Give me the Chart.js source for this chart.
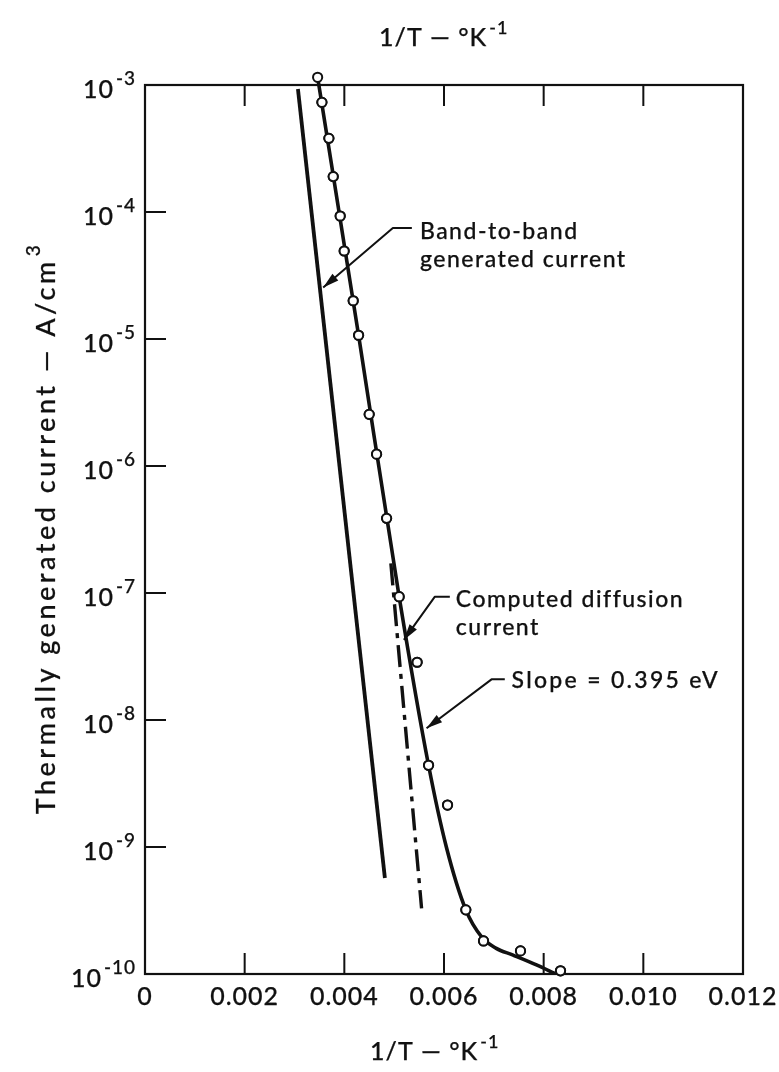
<!DOCTYPE html>
<html>
<head>
<meta charset="utf-8">
<script src="https://cdn.jsdelivr.net/npm/chart.js@4/dist/chart.umd.min.js"></script>
<style>
  html, body { margin: 0; padding: 0; background: #fff; }
  #wrap { width: 779px; height: 1072px; position: relative; }
</style>
</head>
<body>
<div id="wrap"><canvas id="c"></canvas></div>
<script>
// Axis ticks
const xTickValues = [0, 0.002, 0.004, 0.006, 0.008, 0.010, 0.012];
const xTickLabels = ['0', '0.002', '0.004', '0.006', '0.008', '0.010', '0.012'];
const yDecades = [-3, -4, -5, -6, -7, -8, -9, -10];

// Measured thermally generated current
const measuredInvT = [0.003464, 0.003550, 0.003690, 0.003777, 0.003917, 0.003997, 0.004178, 0.004286,
  0.004499, 0.004647, 0.004848, 0.005100, 0.005461, 0.005690, 0.006071, 0.006438, 0.006793, 0.007535, 0.008338];
const measuredCurrent = [1.15e-3, 7.3e-4, 3.8e-4, 1.90e-4, 9.3e-5, 4.93e-5, 2.0e-5, 1.07e-5,
  2.55e-6, 1.24e-6, 3.87e-7, 9.35e-8, 2.85e-8, 4.4e-9, 2.14e-9, 3.2e-10, 1.82e-10, 1.52e-10, 1.06e-10];

// Curve drawn through the measurements (slope = 0.395 eV, then levelling off)
const fitInvT = [0.003464, 0.004286, 0.005100, 0.005690, 0.006047, 0.006438, 0.006759, 0.007040, 0.007387, 0.007856, 0.008223];
const fitCurrent = [1.15e-3, 1.07e-5, 9.35e-8, 4.4e-9, 1.0e-9, 3.2e-10, 1.95e-10, 1.60e-10, 1.41e-10, 1.18e-10, 1.01e-10];

// Band-to-band generated current
const bandInvT = [0.003069, 0.004814];
const bandCurrent = [9.3e-4, 5.7e-10];

// Computed diffusion current
const diffInvT = [0.004934, 0.005550];
const diffCurrent = [1.71e-7, 3.29e-10];

// Callouts: arrow tip, elbow, end of leader, text anchor (data units)
const callouts = [
  { tip: [0.003576, 2.54e-5], elbow: [0.004974, 7.48e-5], end: [0.005355, 7.48e-5],
    text: [0.005516, 6.12e-5], lines: ['Band-to-band', 'generated current'] },
  { tip: [0.005195, 4.27e-8], elbow: [0.005817, 9.35e-8], end: [0.006117, 9.35e-8],
    text: [0.006238, 7.8e-8], lines: ['Computed diffusion', 'current'] },
  { tip: [0.00565, 8.6e-9], elbow: [0.006954, 2.09e-8], end: [0.00722, 2.09e-8],
    text: [0.007355, 1.78e-8], lines: ['Slope = 0.395 eV'] }
];

const FONT = 'Lato, "DejaVu Sans", sans-serif';
const WEIGHT = '500 ';
const INK = '#111';
const toXY = (xs, ys) => xs.map((x, i) => ({ x: x, y: ys[i] }));

function setSpacing(ctx, px) {
  if ('letterSpacing' in ctx) ctx.letterSpacing = px + 'px';
}

// Filled text with a faint outline so the glyphs read a little heavier
function inkText(ctx, s, x, y) {
  ctx.fillText(s, x, y);
  ctx.strokeText(s, x, y);
}

// Text with a superscript tail; align 'left', 'center' or 'right' on x
function drawWithSup(ctx, base, sup, x, y, size, supSize, supRise, align, spacing) {
  ctx.save();
  setSpacing(ctx, spacing);
  ctx.font = WEIGHT + size + 'px ' + FONT;
  const wb = ctx.measureText(base).width;
  ctx.font = WEIGHT + supSize + 'px ' + FONT;
  const ws = ctx.measureText(sup).width;
  const gap = 2;
  const x0 = align === 'right' ? x - (wb + gap + ws) : (align === 'center' ? x - (wb + gap + ws) / 2 : x);
  ctx.textAlign = 'left';
  ctx.textBaseline = 'alphabetic';
  ctx.font = WEIGHT + size + 'px ' + FONT;
  inkText(ctx, base, x0, y);
  ctx.font = WEIGHT + supSize + 'px ' + FONT;
  inkText(ctx, sup, x0 + wb + gap, y - supRise);
  ctx.restore();
}

const framePlugin = {
  id: 'frame',
  afterDatasetsDraw(chart) {
    const ctx = chart.ctx;
    const xs = chart.scales.x, ys = chart.scales.y;
    const a = chart.chartArea;
    ctx.save();
    ctx.strokeStyle = INK;
    ctx.fillStyle = INK;
    ctx.lineWidth = 2.2;
    ctx.strokeRect(a.left, a.top, a.right - a.left, a.bottom - a.top);

    // inward ticks
    ctx.lineWidth = 2;
    const tl = 21;
    xTickValues.forEach(v => {
      const px = xs.getPixelForValue(v);
      ctx.beginPath();
      ctx.moveTo(px, a.top); ctx.lineTo(px, a.top + tl);
      ctx.moveTo(px, a.bottom); ctx.lineTo(px, a.bottom - tl);
      ctx.stroke();
    });
    yDecades.forEach(d => {
      const py = ys.getPixelForValue(Math.pow(10, d));
      ctx.beginPath();
      ctx.moveTo(a.left, py); ctx.lineTo(a.left + tl, py);
      ctx.stroke();
    });

    // all text gets the same light outline
    const TEXT_EDGE = 0.25;
    ctx.lineWidth = TEXT_EDGE;
    ctx.lineJoin = 'round';

    // x tick labels
    ctx.font = WEIGHT + '25px ' + FONT;
    setSpacing(ctx, 1);
    ctx.textAlign = 'center';
    ctx.textBaseline = 'alphabetic';
    xTickValues.forEach((v, i) => {
      inkText(ctx, xTickLabels[i], xs.getPixelForValue(v), a.bottom + 31);
    });

    // y tick labels (powers of ten)
    yDecades.forEach(d => {
      const py = ys.getPixelForValue(Math.pow(10, d));
      drawWithSup(ctx, '10', '-' + Math.abs(d), a.left - 9, py + 13, 25, 19, 13, 'right', 1);
    });

    // axis titles
    drawWithSup(ctx, '1/T \u2014 \u00b0K', '-1', 379, 46, 25, 18, 12, 'left', 1);
    drawWithSup(ctx, '1/T \u2014 \u00b0K', '-1', 370, 1060, 25, 18, 12, 'left', 1);

    ctx.save();
    ctx.translate(55, 528);
    ctx.rotate(-Math.PI / 2);
    drawWithSup(ctx, 'Thermally generated current \u2014 A/cm', '3', 0, 0, 27, 19, 15, 'center', 3.5);
    ctx.restore();

    // callouts
    callouts.forEach(c => {
      const tip = [xs.getPixelForValue(c.tip[0]), ys.getPixelForValue(c.tip[1])];
      const elb = [xs.getPixelForValue(c.elbow[0]), ys.getPixelForValue(c.elbow[1])];
      const end = [xs.getPixelForValue(c.end[0]), ys.getPixelForValue(c.end[1])];
      ctx.lineWidth = 2;
      ctx.beginPath();
      ctx.moveTo(end[0], end[1]);
      ctx.lineTo(elb[0], elb[1]);
      ctx.lineTo(tip[0], tip[1]);
      ctx.stroke();
      // arrow head
      const ang = Math.atan2(tip[1] - elb[1], tip[0] - elb[0]);
      const L = 16, W = 4.5;
      const bx = tip[0] - L * Math.cos(ang), by = tip[1] - L * Math.sin(ang);
      ctx.beginPath();
      ctx.moveTo(tip[0], tip[1]);
      ctx.lineTo(bx + W * Math.sin(ang), by - W * Math.cos(ang));
      ctx.lineTo(bx - W * Math.sin(ang), by + W * Math.cos(ang));
      ctx.closePath();
      ctx.fill();
      // text
      const tx = xs.getPixelForValue(c.text[0]), ty = ys.getPixelForValue(c.text[1]);
      ctx.font = WEIGHT + '23px ' + FONT;
      setSpacing(ctx, c.lines.length === 1 ? 2.3 : 1.5);
      ctx.textAlign = 'left';
      ctx.lineWidth = TEXT_EDGE;
      c.lines.forEach((s, i) => inkText(ctx, s, tx, ty + i * 28));
    });
    ctx.restore();

    // measured circles on top of everything, including the one just above the frame
    chart.getDatasetMeta(0).data.forEach(p => p.draw(ctx));
  }
};

new Chart(document.getElementById('c'), {
  type: 'scatter',
  data: {
    datasets: [
      {
        label: 'Measured',
        data: toXY(measuredInvT, measuredCurrent),
        showLine: false,
        pointRadius: 4.6,
        pointBorderWidth: 2,
        pointBackgroundColor: '#fff',
        pointBorderColor: INK,
        clip: false
      },
      {
        label: 'Slope = 0.395 eV',
        data: toXY(fitInvT, fitCurrent),
        showLine: true,
        pointRadius: 0,
        borderColor: INK,
        borderWidth: 3.6,
        cubicInterpolationMode: 'monotone',
        clip: false
      },
      {
        label: 'Band-to-band generated current',
        data: toXY(bandInvT, bandCurrent),
        showLine: true,
        pointRadius: 0,
        borderColor: INK,
        borderWidth: 3.8
      },
      {
        label: 'Computed diffusion current',
        data: toXY(diffInvT, diffCurrent),
        showLine: true,
        pointRadius: 0,
        borderColor: INK,
        borderWidth: 3.4,
        borderDash: [22, 7, 5, 7]
      }
    ]
  },
  options: {
    responsive: true,
    maintainAspectRatio: false,
    animation: false,
    layout: { padding: { left: 145, top: 85, right: 36, bottom: 98 } },
    plugins: { legend: { display: false }, tooltip: { enabled: false } },
    scales: {
      x: { type: 'linear', min: 0, max: 0.012, display: false },
      y: { type: 'logarithmic', min: 1e-10, max: 1e-3, display: false }
    }
  },
  plugins: [framePlugin]
});
</script>
</body>
</html>
